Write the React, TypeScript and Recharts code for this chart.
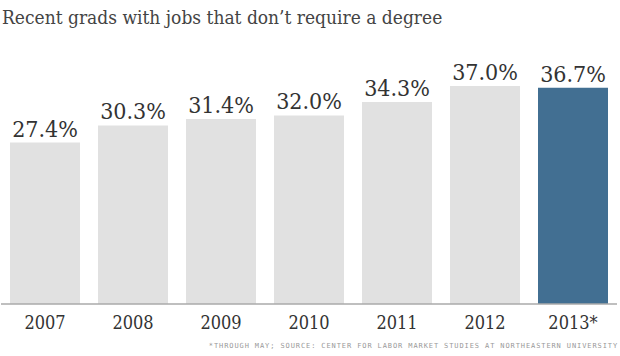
import { Bar, BarChart, Cell, LabelList, XAxis, YAxis } from 'recharts';

const years = ['2007', '2008', '2009', '2010', '2011', '2012', '2013*'];
const shares = [27.4, 30.3, 31.4, 32.0, 34.3, 37.0, 36.7];

const data = years.map((year, i) => ({ year, share: shares[i] }));

const SERIF = "'DejaVu Serif Condensed', 'DejaVu Serif', serif";
const GREY_BAR = '#e1e1e1';
const HIGHLIGHT = '#426f92';

export default function App() {
  return (
    <div style={{ position: 'absolute', left: 0, top: 0, width: 620, height: 356, background: '#fff' }}>
      <div
        style={{
          position: 'absolute',
          left: 2,
          top: 6,
          fontFamily: SERIF,
          fontSize: 19,
          color: '#444',
          whiteSpace: 'nowrap',
        }}
      >
        Recent grads with jobs that don’t require a degree
      </div>
      <BarChart
        width={620}
        height={356}
        data={data}
        margin={{ top: 86, right: 3, left: 1, bottom: 22 }}
        barCategoryGap={9}
      >
        <YAxis hide domain={[0, 37]} />
        <XAxis
          dataKey="year"
          height={30}
          axisLine={{ stroke: '#aaa', strokeWidth: 1.5 }}
          tickLine={false}
          tickMargin={6}
          tick={{ fill: '#333', fontSize: 18, fontFamily: SERIF }}
          interval={0}
        />
        <Bar dataKey="share" isAnimationActive={false}>
          {data.map((d, i) => (
            <Cell key={d.year} fill={i === data.length - 1 ? HIGHLIGHT : GREY_BAR} />
          ))}
          <LabelList
            dataKey="share"
            position="top"
            offset={6}
            formatter={(v: number) => `${v.toFixed(1)}%`}
            style={{ fill: '#333', fontSize: 23, fontFamily: SERIF }}
          />
        </Bar>
      </BarChart>
      <div
        style={{
          position: 'absolute',
          right: 2,
          top: 342,
          fontFamily: "'DejaVu Sans Mono', monospace",
          fontSize: 7,
          letterSpacing: 0.9,
          color: '#999',
          whiteSpace: 'nowrap',
        }}
      >
        *THROUGH MAY; SOURCE: CENTER FOR LABOR MARKET STUDIES AT NORTHEASTERN UNIVERSITY
      </div>
    </div>
  );
}
